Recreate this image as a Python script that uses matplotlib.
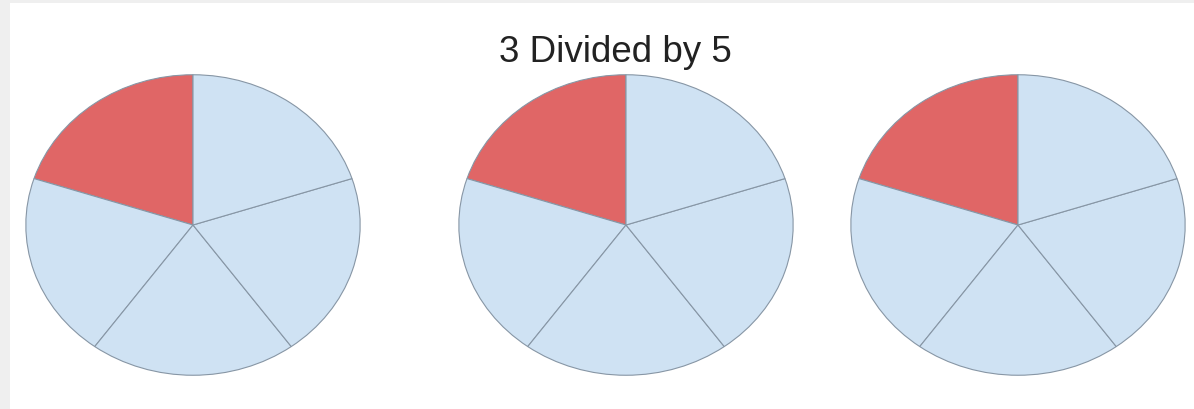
import matplotlib
matplotlib.use("Agg")
import matplotlib.pyplot as plt
from matplotlib.patches import Rectangle

# Data: 5 equal parts, first part shaded, three pies
parts = [1, 1, 1, 1, 1]
part_colors = ["#e06666", "#cfe2f3", "#cfe2f3", "#cfe2f3", "#cfe2f3"]
title = "3 Divided by 5"

# pie layout in pixels (centre x, centre y from top, radius x, radius y)
W, H = 1194, 410
pie_centers_x = [193, 626, 1018]
center_y = 226
rx, ry = 168, 151

fig = plt.figure(figsize=(W / 100, H / 100), dpi=100)
fig.patch.set_facecolor("white")

# light gray frame strips on the left and top
fig.patches.append(Rectangle((0, 0), 10 / W, 1, transform=fig.transFigure,
                             facecolor="#efefef", edgecolor="none", zorder=0))
fig.patches.append(Rectangle((0, 1 - 4 / H), 1, 4 / H, transform=fig.transFigure,
                             facecolor="#efefef", edgecolor="none", zorder=0))

for cx in pie_centers_x:
    ax = fig.add_axes([(cx - rx) / W, (H - center_y - ry) / H, 2 * rx / W, 2 * ry / H])
    ax.pie(parts, colors=part_colors, startangle=90, counterclock=True,
           wedgeprops=dict(edgecolor="#8796a5", linewidth=0.8))
    ax.set_aspect("auto")
    ax.set_xlim(-1.005, 1.005)
    ax.set_ylim(-1.005, 1.005)
    ax.axis("off")

fig.text(615 / W, 1 - 62 / H, title, ha="center", va="baseline",
         fontsize=26.5, color="#222222", family="Liberation Sans")

fig.savefig("out.png", dpi=100)
